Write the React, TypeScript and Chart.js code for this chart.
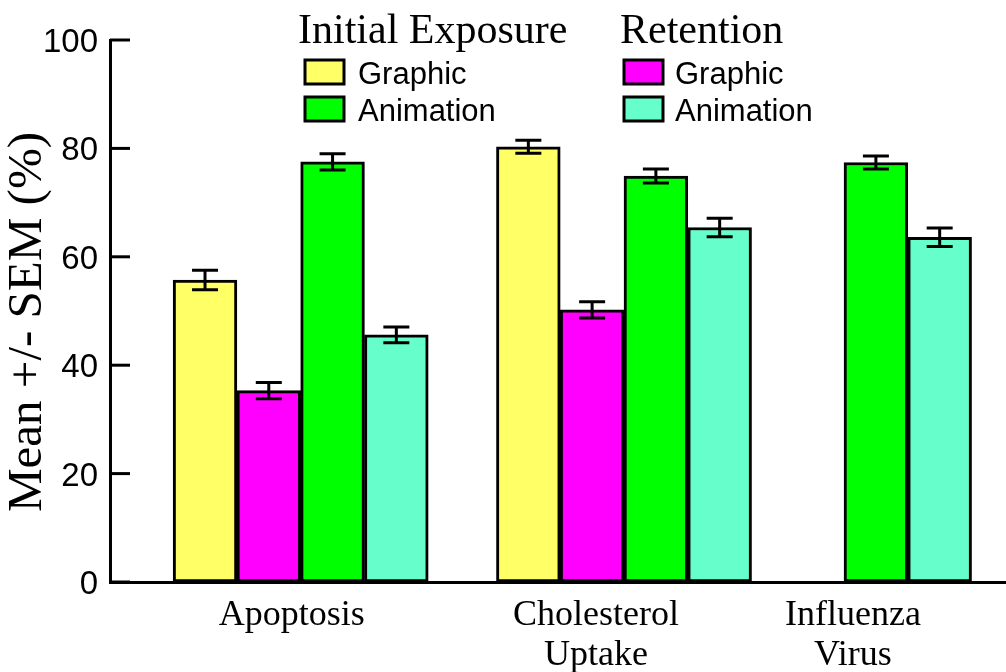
import React, { useEffect, useRef } from "react";
import { Chart, registerables } from "chart.js";

Chart.register(...registerables);

// ---------- data ----------
const categories: string[][] = [["Apoptosis"], ["Cholesterol", "Uptake"], ["Influenza", "Virus"]];
const legendHeaders = ["Initial Exposure", "Retention"];
const seriesNames = ["Graphic", "Graphic", "Animation", "Animation"];

const initialGraphic: (number | null)[] = [55.7, 80.3, null];
const initialGraphicSem: (number | null)[] = [1.8, 1.2, null];
const retentionGraphic: (number | null)[] = [35.3, 50.2, null];
const retentionGraphicSem: (number | null)[] = [1.5, 1.5, null];
const initialAnimation: (number | null)[] = [77.5, 74.9, 77.4];
const initialAnimationSem: (number | null)[] = [1.5, 1.3, 1.2];
const retentionAnimation: (number | null)[] = [45.6, 65.4, 63.6];
const retentionAnimationSem: (number | null)[] = [1.45, 1.7, 1.7];

const yTickValues = [0, 20, 40, 60, 80, 100];
const yTitle = "Mean +/- SEM (%)";

// ---------- layout / style ----------
const LAYOUT = {
  xMax: 14.05, // x unit = one bar width
  groupStart: [0.99, 6.06, 9.51],
  labelCenter: [2.85, 7.62, 11.65],
};

const SERIES = [
  { values: initialGraphic, sem: initialGraphicSem, color: "#FFFF66", slot: 0, legendCol: 0, legendRow: 0, name: seriesNames[0] },
  { values: retentionGraphic, sem: retentionGraphicSem, color: "#FF00FF", slot: 1, legendCol: 1, legendRow: 0, name: seriesNames[1] },
  { values: initialAnimation, sem: initialAnimationSem, color: "#00FF00", slot: 2, legendCol: 0, legendRow: 1, name: seriesNames[2] },
  { values: retentionAnimation, sem: retentionAnimationSem, color: "#66FFCC", slot: 3, legendCol: 1, legendRow: 1, name: seriesNames[3] },
];

const LEGEND = {
  headerX: [298, 620],
  headerBaseline: 43,
  boxX: [305, 624],
  boxW: 39,
  boxH: 24,
  rowBoxTop: [60, 97],
  textX: [358, 675],
  headerFont: '42px "Liberation Serif"',
  itemFont: '31px "Liberation Sans"',
};

const SERIF = "Liberation Serif";
const SANS = "Liberation Sans";

const errorBarPlugin = {
  id: "errorBars",
  afterDatasetsDraw(chart: any) {
    const { ctx } = chart;
    const y = chart.scales.y;
    ctx.save();
    ctx.strokeStyle = "#000";
    ctx.lineWidth = 3;
    chart.data.datasets.forEach((ds: any, di: number) => {
      const meta = chart.getDatasetMeta(di);
      meta.data.forEach((el: any, i: number) => {
        const p = ds.data[i];
        if (!p || p.sem == null) return;
        const top = y.getPixelForValue(p.y + p.sem);
        const bot = y.getPixelForValue(p.y - p.sem);
        const half = 13;
        ctx.beginPath();
        ctx.moveTo(el.x, top);
        ctx.lineTo(el.x, bot);
        ctx.moveTo(el.x - half, top);
        ctx.lineTo(el.x + half, top);
        ctx.moveTo(el.x - half, bot);
        ctx.lineTo(el.x + half, bot);
        ctx.stroke();
      });
    });
    ctx.restore();
  },
};

const decorPlugin = {
  id: "decor",
  afterDraw(chart: any) {
    const { ctx, chartArea } = chart;
    const y = chart.scales.y;
    ctx.save();
    // inward tick marks
    ctx.strokeStyle = "#000";
    ctx.lineWidth = 3;
    y.ticks.forEach((t: any) => {
      const py = y.getPixelForValue(t.value);
      ctx.beginPath();
      ctx.moveTo(chartArea.left, py);
      ctx.lineTo(chartArea.left + 20, py);
      ctx.stroke();
    });
    // y title
    ctx.save();
    ctx.translate(28, 322);
    ctx.rotate(-Math.PI / 2);
    ctx.font = `49px "${SERIF}"`;
    ctx.fillStyle = "#000";
    ctx.textAlign = "center";
    ctx.textBaseline = "middle";
    ctx.fillText(yTitle, 0, 0);
    ctx.restore();
    // legend
    ctx.fillStyle = "#000";
    ctx.textAlign = "left";
    ctx.textBaseline = "alphabetic";
    ctx.font = LEGEND.headerFont;
    legendHeaders.forEach((h, c) => ctx.fillText(h, LEGEND.headerX[c], LEGEND.headerBaseline));
    chart.data.datasets.forEach((ds: any) => {
      const c = ds.legendCol;
      const r = ds.legendRow;
      const bx = LEGEND.boxX[c];
      const by = LEGEND.rowBoxTop[r];
      ctx.fillStyle = ds.backgroundColor;
      ctx.fillRect(bx, by, LEGEND.boxW, LEGEND.boxH);
      ctx.strokeStyle = "#000";
      ctx.lineWidth = 3;
      ctx.strokeRect(bx, by, LEGEND.boxW, LEGEND.boxH);
      ctx.fillStyle = "#000";
      ctx.font = LEGEND.itemFont;
      ctx.fillText(ds.label, LEGEND.textX[c], by + LEGEND.boxH);
    });
    ctx.restore();
  },
};

export default function App() {
  const ref = useRef<HTMLCanvasElement | null>(null);

  useEffect(() => {
    if (!ref.current) return;
    const datasets = SERIES.map((s) => ({
      label: s.name,
      legendCol: s.legendCol,
      legendRow: s.legendRow,
      backgroundColor: s.color,
      borderColor: "#000",
      borderWidth: 3,
      borderSkipped: false,
      grouped: false,
      barPercentage: 1,
      categoryPercentage: 1,
      data: s.values
        .map((v, i) =>
          v == null ? null : { x: LAYOUT.groupStart[i] + s.slot + 0.5, y: v, sem: s.sem[i] }
        )
        .filter((p) => p !== null),
    }));

    const chart = new Chart(ref.current, {
      type: "bar",
      data: { datasets: datasets as any },
      options: {
        responsive: false,
        animation: false,
        layout: { padding: { top: 40, left: 0, right: 0, bottom: 0 } },
        plugins: { legend: { display: false }, tooltip: { enabled: false }, title: { display: false } },
        scales: {
          x: {
            type: "linear",
            offset: false,
            min: 0,
            max: LAYOUT.xMax,
            afterBuildTicks: (s: any) => {
              s.ticks = LAYOUT.labelCenter.map((v) => ({ value: v }));
            },
            afterFit: (s: any) => {
              s.height = 90;
            },
            ticks: {
              autoSkip: false,
              maxRotation: 0,
              minRotation: 0,
              padding: 14,
              color: "#000",
              font: { family: SERIF, size: 36, lineHeight: 1.1 },
              callback: (_v: any, i: number) => categories[i],
            },
            grid: { display: false, drawTicks: false, offset: false },
            border: { display: true, color: "#000", width: 3 },
          },
          y: {
            min: 0,
            max: 100,
            afterBuildTicks: (s: any) => {
              s.ticks = yTickValues.map((v) => ({ value: v }));
            },
            afterFit: (s: any) => {
              s.width = 110;
            },
            ticks: {
              padding: 12,
              labelOffset: 3,
              color: "#000",
              font: { family: SANS, size: 33 },
            },
            grid: { display: false, drawTicks: false },
            border: { display: true, color: "#000", width: 3 },
          },
        },
      } as any,
      plugins: [errorBarPlugin, decorPlugin],
    });
    return () => chart.destroy();
  }, []);

  return (
    <div style={{ position: "absolute", left: 0, top: 0, width: 1006, height: 672, background: "#fff" }}>
      <canvas ref={ref} width={1006} height={672} style={{ display: "block" }} />
    </div>
  );
}
